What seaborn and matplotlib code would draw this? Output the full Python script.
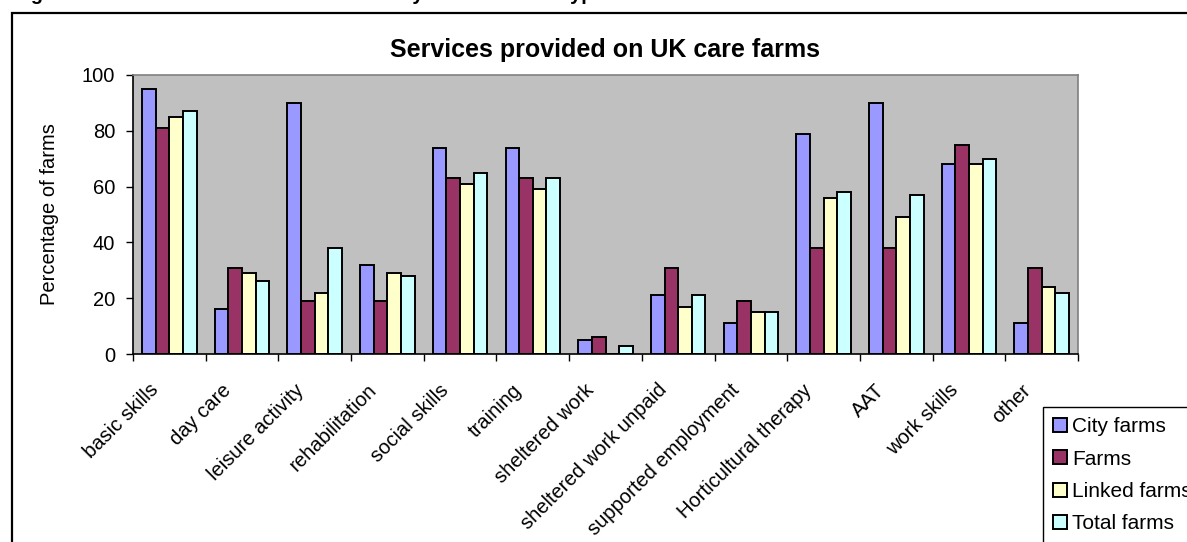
import matplotlib
matplotlib.use("Agg")
import matplotlib.pyplot as plt
import matplotlib.transforms as mtrans
from matplotlib.patches import Rectangle
import numpy as np
import pandas as pd
import seaborn as sns

# ── data ──────────────────────────────────────────────────────────────────
services = ["basic skills", "day care", "leisure activity", "rehabilitation",
            "social skills", "training", "sheltered work", "sheltered work unpaid",
            "supported employment", "Horticultural therapy", "AAT", "work skills",
            "other"]
city_farms   = [95, 16, 90, 32, 74, 74, 5, 21, 11, 79, 90, 68, 11]
farms        = [81, 31, 19, 19, 63, 63, 6, 31, 19, 38, 38, 75, 31]
linked_farms = [85, 29, 22, 29, 61, 59, 0, 17, 15, 56, 49, 68, 24]
total_farms  = [87, 26, 38, 28, 65, 63, 3, 21, 15, 58, 57, 70, 22]
series = ["City farms", "Farms", "Linked farms", "Total farms"]
colors = ["#9999FF", "#993366", "#FFFFCC", "#CCFFFF"]
yticks = [0, 20, 40, 60, 80, 100]

df = pd.DataFrame({
    "service": services * 4,
    "type": np.repeat(series, len(services)),
    "value": city_farms + farms + linked_farms + total_farms,
})

sns.set_theme(style="white")
plt.rcParams["font.family"] = ["Liberation Sans", "DejaVu Sans"]
plt.rcParams.update({"text.color": "black", "axes.labelcolor": "black",
                     "xtick.color": "black", "ytick.color": "black"})

W, H = 1187, 542
fig = plt.figure(figsize=(W / 100, H / 100), dpi=100)
ax = fig.add_axes([133 / W, 1 - 354 / H, (1078 - 133) / W, (354 - 75) / H])

sns.barplot(data=df, x="service", y="value", hue="type", order=services,
            hue_order=series, palette=colors, saturation=1, width=0.75,
            edgecolor="black", linewidth=1.4, errorbar=None, ax=ax)

ax.set_facecolor("#C0C0C0")
ax.set_xlim(-0.5, len(services) - 0.5)
ax.set_ylim(0, 100)
ax.set_yticks(yticks)
ax.tick_params(axis="y", direction="out", length=4.8, width=1,
               labelsize=14.5, pad=8, left=True)

# ticks between categories, labels centred on categories
ax.set_xticks(np.arange(-0.5, len(services)), labels=[""] * (len(services) + 1))
ax.set_xticks(np.arange(len(services)), minor=True)
ax.set_xticklabels(services, minor=True, rotation=45, ha="right",
                   va="top", rotation_mode="anchor", fontsize=14.5)
ax.tick_params(axis="x", which="major", direction="out", length=4.8, width=1,
               bottom=True)
ax.tick_params(axis="x", which="minor", length=0, pad=19)
off = mtrans.ScaledTranslation(-15 / 72, 0, fig.dpi_scale_trans)
for lab in ax.get_xticklabels(minor=True):
    lab.set_transform(lab.get_transform() + off)

for side in ["left", "bottom"]:
    ax.spines[side].set_color("black")
    ax.spines[side].set_linewidth(1.2)
for side in ["top", "right"]:
    ax.spines[side].set_visible(True)
    ax.spines[side].set_color("#808080")
    ax.spines[side].set_linewidth(1.2)

ax.set_xlabel("")
ax.set_ylabel("Percentage of farms", fontsize=14.5)
ax.yaxis.set_label_coords(-0.078, 0.5)
ax.set_title("Services provided on UK care farms", fontsize=18,
             fontweight="bold", pad=13)

handles, labels = ax.get_legend_handles_labels()
ax.get_legend().remove()
leg = fig.legend(handles, labels, loc="upper left",
                 bbox_to_anchor=(1043 / W, 1 - 407 / H), fontsize=15,
                 frameon=True, fancybox=False, shadow=False, borderpad=0.5,
                 handlelength=0.65, handleheight=0.65, handletextpad=0.25,
                 labelspacing=0.64, borderaxespad=0)
leg.get_frame().set_edgecolor("black")
leg.get_frame().set_linewidth(1)
leg.get_frame().set_facecolor("white")
leg.get_frame().set_alpha(1)

# outer chart frame (runs off the right and bottom of the crop)
fig.patches.append(Rectangle((12 / W, -0.1), 1.2, 1 - 13 / H + 0.1,
                             transform=fig.transFigure, fill=False,
                             edgecolor="black", linewidth=1.6))

# caption line above the chart, mostly cropped away as in the source
fig.text(13 / W, 1.0, "Figure 3: Services offered on care farms by different farm type",
         fontsize=14.4, fontweight="bold", va="baseline", ha="left")

fig.savefig("out.png", dpi=100)
